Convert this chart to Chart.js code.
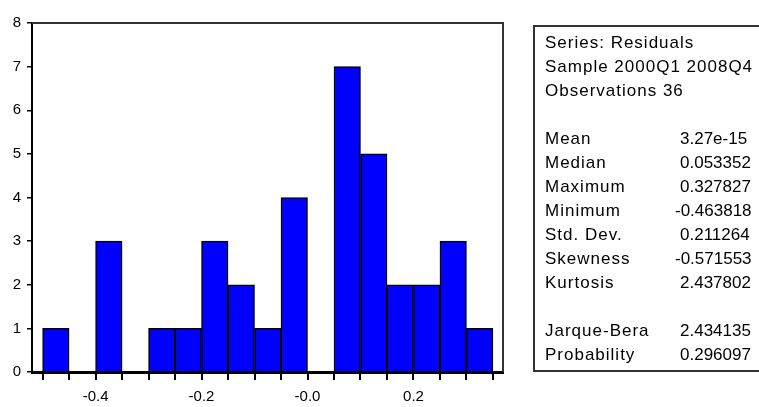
<!DOCTYPE html>
<html>
<head>
<meta charset="utf-8">
<script src="https://cdn.jsdelivr.net/npm/chart.js@4.4.1/dist/chart.umd.min.js"></script>
<style>
  html, body { margin: 0; padding: 0; background: #fff; }
  #wrap { position: relative; width: 759px; height: 407px; overflow: hidden; }
  #hist { position: absolute; left: 0; top: 0; }
  #stats {
    position: absolute; left: 533px; top: 25px; width: 240px; height: 347px;
    border: 2px solid #333; box-sizing: border-box;
    font-family: "Liberation Sans", Arial, sans-serif; font-size: 17px; color: #000;
  }
  #stats .row { position: absolute; left: 10px; white-space: nowrap; line-height: 18px; letter-spacing: 1px; }
  #stats .val { position: absolute; left: 145px; white-space: nowrap; line-height: 18px; }
</style>
</head>
<body>
<div id="wrap">
  <canvas id="hist" width="759" height="407"></canvas>
  <div id="stats"></div>
</div>
<script>
// histogram bins (lower edge) and counts
var binStarts = [-0.50, -0.45, -0.40, -0.35, -0.30, -0.25, -0.20, -0.15, -0.10, -0.05, 0.00, 0.05, 0.10, 0.15, 0.20, 0.25, 0.30];
var counts    = [1, 0, 3, 0, 1, 1, 3, 2, 1, 4, 0, 7, 5, 2, 2, 3, 1];
var binWidth = 0.05;

// x tick marks at every bin edge, labels only on a few
var xTickEdges = [-0.50, -0.45, -0.40, -0.35, -0.30, -0.25, -0.20, -0.15, -0.10, -0.05, 0.00, 0.05, 0.10, 0.15, 0.20, 0.25, 0.30, 0.35];
var xLabelValues = [-0.4, -0.2, 0.0, 0.2];
var xLabelTexts  = ['-0.4', '-0.2', '-0.0', '0.2'];
var yTicks = [0, 1, 2, 3, 4, 5, 6, 7, 8];

// statistics panel
var headerLines = ['Series: Residuals', 'Sample 2000Q1 2008Q4', 'Observations 36'];
var statNames  = ['Mean', 'Median', 'Maximum', 'Minimum', 'Std. Dev.', 'Skewness', 'Kurtosis', '', 'Jarque-Bera', 'Probability'];
var statValues = ['3.27e-15', '0.053352', '0.327827', '-0.463818', '0.211264', '-0.571553', '2.437802', '', '2.434135', '0.296097'];

// build stats box
var box = document.getElementById('stats');
var rowH = 24;
var y0 = 7;
headerLines.forEach(function (t, i) {
    var d = document.createElement('div');
    d.className = 'row';
    d.style.top = (y0 + i * rowH) + 'px';
    d.textContent = t;
    box.appendChild(d);
});
statNames.forEach(function (t, i) {
    if (!t) return;
    var top = y0 + (i + 4) * rowH;
    var a = document.createElement('div');
    a.className = 'row';
    a.style.top = top + 'px';
    a.textContent = t;
    box.appendChild(a);
    var b = document.createElement('div');
    b.className = 'val';
    b.style.top = top + 'px';
    if (statValues[i].charAt(0) === '-') b.style.left = '140px';
    b.textContent = statValues[i];
    box.appendChild(b);
});

// frame around plot area (top + right)
var framePlugin = {
    id: 'frame',
    afterDraw: function (chart) {
        var a = chart.chartArea;
        var ctx = chart.ctx;
        ctx.save();
        ctx.strokeStyle = '#333';
        ctx.lineWidth = 2;
        ctx.beginPath();
        ctx.moveTo(a.left, a.top);
        ctx.lineTo(a.right, a.top);
        ctx.lineTo(a.right, a.bottom);
        ctx.stroke();
        ctx.restore();
    }
};

var points = binStarts.map(function (s, i) {
    return { x: s + binWidth / 2, y: counts[i] };
});

var tickFont = { family: '"Liberation Sans", Arial, sans-serif', size: 15 };

new Chart(document.getElementById('hist'), {
    type: 'bar',
    data: {
        datasets: [{
            data: points,
            backgroundColor: '#0000ff',
            borderColor: '#000',
            borderWidth: 1.5,
            borderSkipped: 'bottom',
            barPercentage: 1,
            categoryPercentage: 1
        }]
    },
    options: {
        responsive: false,
        animation: false,
        layout: { padding: { top: 23, right: 256, left: 0, bottom: 0 } },
        plugins: { legend: { display: false }, tooltip: { enabled: false } },
        scales: {
            x: {
                type: 'linear',
                offset: false,
                min: -0.52,
                max: 0.369,
                afterBuildTicks: function (scale) {
                    scale.ticks = xTickEdges.map(function (v) { return { value: v }; });
                },
                afterFit: function (scale) { scale.height = 35; },
                ticks: {
                    autoSkip: false,
                    maxRotation: 0,
                    color: '#000',
                    font: tickFont,
                    padding: 8,
                    callback: function (v) {
                        for (var i = 0; i < xLabelValues.length; i++) {
                            if (Math.abs(v - xLabelValues[i]) < 1e-9) return xLabelTexts[i];
                        }
                        return '';
                    }
                },
                grid: { offset: false, drawOnChartArea: false, drawTicks: true, tickLength: 8, color: '#000', lineWidth: 2 },
                border: { display: true, color: '#000', width: 3 }
            },
            y: {
                min: 0,
                max: 8,
                afterBuildTicks: function (scale) {
                    scale.ticks = yTicks.map(function (v) { return { value: v }; });
                },
                afterFit: function (scale) { scale.width = 32; },
                ticks: { color: '#000', font: tickFont, padding: 6 },
                grid: { drawOnChartArea: false, drawTicks: true, tickLength: 5, color: '#000', lineWidth: 1.5 },
                border: { display: true, color: '#000', width: 2 }
            }
        }
    },
    plugins: [framePlugin]
});
</script>
</body>
</html>
